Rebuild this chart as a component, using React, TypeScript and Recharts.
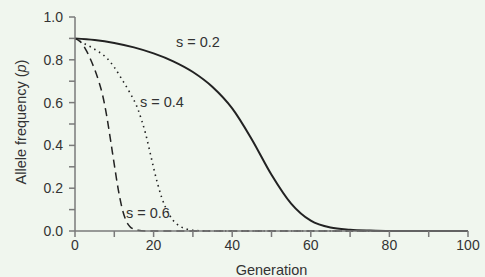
import { LineChart, Line, XAxis, YAxis, Label } from "recharts";

// generations and allele frequency
const gen02 = [0, 5, 10, 15, 20, 25, 30, 35, 40, 45, 50, 55, 60, 65, 70, 75, 80, 90, 100];
const p02 = [0.9, 0.893, 0.879, 0.858, 0.83, 0.793, 0.743, 0.673, 0.573, 0.428, 0.263, 0.128, 0.048, 0.016, 0.006, 0.002, 0, 0, 0];

const gen04 = [0, 2, 4, 6, 8, 10, 12, 14, 16, 17, 18, 19, 20, 21, 22, 23, 24, 25, 26, 27, 28, 29, 30, 32, 34, 40, 60, 100];
const p04 = [0.9, 0.879, 0.86, 0.838, 0.81, 0.765, 0.707, 0.645, 0.57, 0.515, 0.452, 0.375, 0.295, 0.222, 0.16, 0.112, 0.076, 0.049, 0.031, 0.019, 0.011, 0.006, 0.003, 0.001, 0, 0, 0, 0];

const gen06 = [0, 1, 2, 3, 4, 5, 6, 7, 8, 9, 10, 11, 12, 13, 14, 15, 16, 18, 20, 40, 100];
const p06 = [0.9, 0.89, 0.871, 0.839, 0.8, 0.755, 0.702, 0.637, 0.545, 0.43, 0.31, 0.195, 0.105, 0.048, 0.02, 0.008, 0.003, 0, 0, 0, 0];

const xTicks = [0, 10, 20, 30, 40, 50, 60, 70, 80, 90, 100];
const yTicks = [0, 0.1, 0.2, 0.3, 0.4, 0.5, 0.6, 0.7, 0.8, 0.9, 1.0];

const toRows = (g: number[], p: number[]) => g.map((x, i) => ({ x, p: p[i] }));

const axisColor = "#7a7a7a";
const textColor = "#333";
const font = "Liberation Sans, Arial, sans-serif";

const labelCss = { fontSize: 14.5, color: textColor, fontFamily: font, lineHeight: "16px" };

export default function App() {
  const tickStyle = { fill: textColor, fontSize: 14, fontFamily: font };
  const titleStyle = { fill: textColor, fontSize: 14.5, fontFamily: font };
  return (
    <div style={{ position: "absolute", left: 0, top: 0, width: 485, height: 277, background: "#f0f6ee" }}>
      <LineChart width={485} height={277} margin={{ top: 17, right: 17, bottom: 0, left: 0 }}>
        <XAxis
          type="number"
          dataKey="x"
          domain={[0, 100]}
          ticks={xTicks}
          interval={0}
          tickFormatter={(v: number) => (v % 20 === 0 ? String(v) : "")}
          stroke={axisColor}
          strokeWidth={1.5}
          tickSize={6}
          tickMargin={3}
          tick={tickStyle}
          height={46}
          allowDataOverflow
        >
          <Label value="Generation" position="insideBottom" offset={2} style={titleStyle} />
        </XAxis>
        <YAxis
          type="number"
          domain={[0, 1]}
          ticks={yTicks}
          interval={0}
          tickFormatter={(v: number) => (Math.round(v * 10) % 2 === 0 ? v.toFixed(1) : "")}
          stroke={axisColor}
          strokeWidth={1.5}
          tickSize={6}
          tickMargin={6}
          tick={tickStyle}
          width={75}
        >
          <Label
            content={(props: any) => {
              const vb = props.viewBox || {};
              const cx = 21;
              const cy = vb.y + vb.height / 2 - 2;
              return (
                <text
                  x={cx}
                  y={cy}
                  transform={`rotate(-90 ${cx} ${cy})`}
                  textAnchor="middle"
                  dominantBaseline="central"
                  style={titleStyle}
                  fill={textColor}
                >
                  Allele frequency (<tspan fontStyle="italic">p</tspan>)
                </text>
              );
            }}
          />
        </YAxis>
        <Line data={toRows(gen02, p02)} dataKey="p" type="monotone" stroke="#222" strokeWidth={2} dot={false} isAnimationActive={false} />
        <Line data={toRows(gen04, p04)} dataKey="p" type="monotone" stroke="#222" strokeWidth={1.6} strokeDasharray="1.5 4" dot={false} isAnimationActive={false} />
        <Line data={toRows(gen06, p06)} dataKey="p" type="monotone" stroke="#222" strokeWidth={1.5} strokeDasharray="8 5" dot={false} isAnimationActive={false} />
      </LineChart>
      <div style={{ position: "absolute", left: 176, top: 34, ...labelCss }}>s = 0.2</div>
      <div style={{ position: "absolute", left: 140, top: 94, ...labelCss }}>s = 0.4</div>
      <div style={{ position: "absolute", left: 126, top: 205, ...labelCss }}>s = 0.6</div>
    </div>
  );
}
